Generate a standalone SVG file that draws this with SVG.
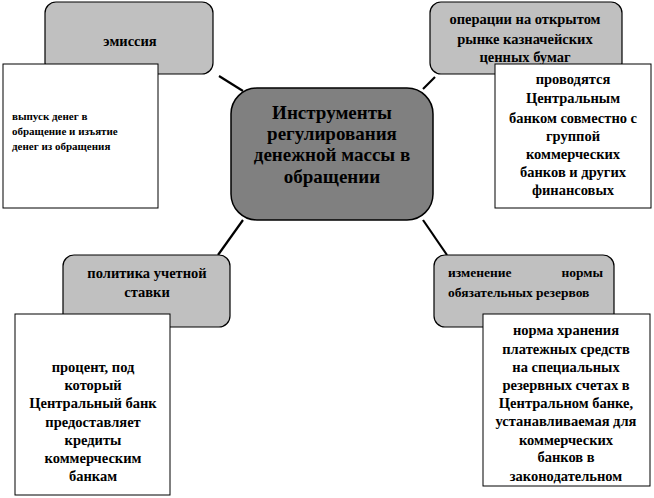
<svg xmlns="http://www.w3.org/2000/svg" width="654" height="498" viewBox="0 0 654 498" font-family="Liberation Serif, DejaVu Serif, serif" font-weight="bold">
<style>
.g{fill:#c0c0c0;stroke:#000;stroke-width:1.2}
.w{fill:#fff;stroke:#000;stroke-width:1}
.c{fill:#808080;stroke:#000;stroke-width:1.5}
.ln{stroke:#000;stroke-width:2.2;fill:none}
.m{text-anchor:middle}
.t{font-size:14.5px}
.r{font-size:13.5px}
</style>
<rect width="654" height="498" fill="#fff"/>
<g id="connectors">
<line class="ln" x1="219" y1="76" x2="243" y2="91"/>
<line class="ln" x1="435" y1="77" x2="423" y2="89"/>
<line class="ln" x1="243" y1="220" x2="218" y2="255"/>
<line class="ln" x1="423" y1="220" x2="447" y2="255"/>
</g>
<g id="center">
<rect x="231" y="88" width="202" height="132" rx="26" class="c"/>
<text class="m" font-size="19" x="332" y="119">Инструменты</text>
<text class="m" font-size="19" x="332" y="140">регулирования</text>
<text class="m" font-size="19" x="332" y="161">денежной массы в</text>
<text class="m" font-size="19" x="332" y="183">обращении</text>
</g>
<g id="emission">
<rect x="45" y="2" width="168" height="72" rx="11" class="g"/>
<text class="m t" x="130" y="46">эмиссия</text>
</g>
<g id="emission-desc">
<rect x="3" y="64" width="155" height="144" class="w"/>
<text font-size="11" x="12" y="120">выпуск денег в</text>
<text font-size="11" x="12" y="135">обращение и изъятие</text>
<text font-size="11" x="12" y="150">денег из обращения</text>
</g>
<g id="open-market">
<rect x="430" y="2" width="192" height="72" rx="11" class="g"/>
<text class="m t" x="525" y="24">операции на открытом</text>
<text class="m t" x="525" y="44">рынке казначейских</text>
<text class="m t" x="525" y="62">ценных бумаг</text>
</g>
<g id="open-market-desc">
<rect x="495" y="64" width="156" height="144" class="w"/>
<text class="m t" x="573" y="84">проводятся</text>
<text class="m t" x="573" y="103">Центральным</text>
<text class="m t" x="573" y="123">банком совместно с</text>
<text class="m t" x="573" y="141">группой</text>
<text class="m t" x="573" y="159">коммерческих</text>
<text class="m t" x="573" y="177">банков и других</text>
<text class="m t" x="573" y="195">финансовых</text>
</g>
<g id="discount-rate">
<rect x="63" y="255" width="167" height="72" rx="11" class="g"/>
<text class="m t" x="147" y="278">политика учетной</text>
<text class="m t" x="147" y="297">ставки</text>
</g>
<g id="discount-rate-desc">
<rect x="15" y="314" width="155" height="181" class="w"/>
<text class="m t" x="93" y="372">процент, под</text>
<text class="m t" x="93" y="390">который</text>
<text class="m t" x="93" y="408">Центральный банк</text>
<text class="m t" x="93" y="427">предоставляет</text>
<text class="m t" x="93" y="445">кредиты</text>
<text class="m t" x="93" y="463">коммерческим</text>
<text class="m t" x="93" y="481">банкам</text>
</g>
<g id="reserve">
<rect x="434" y="255" width="180" height="72" rx="11" class="g"/>
<text class="r" x="448" y="277">изменение</text>
<text class="r" x="603" y="277" text-anchor="end">нормы</text>
<text class="r" x="448" y="297">обязательных резервов</text>
</g>
<g id="reserve-desc">
<rect x="483" y="314" width="167" height="172" class="w"/>
<text class="m t" x="566" y="335">норма хранения</text>
<text class="m t" x="566" y="354">платежных средств</text>
<text class="m t" x="566" y="372">на специальных</text>
<text class="m t" x="566" y="390">резервных счетах в</text>
<text class="m t" x="566" y="408">Центральном банке,</text>
<text class="m t" x="566" y="426">устанавливаемая для</text>
<text class="m t" x="566" y="445">коммерческих</text>
<text class="m t" x="566" y="462">банков в</text>
<text class="m t" x="566" y="481">законодательном</text>
</g>
</svg>
